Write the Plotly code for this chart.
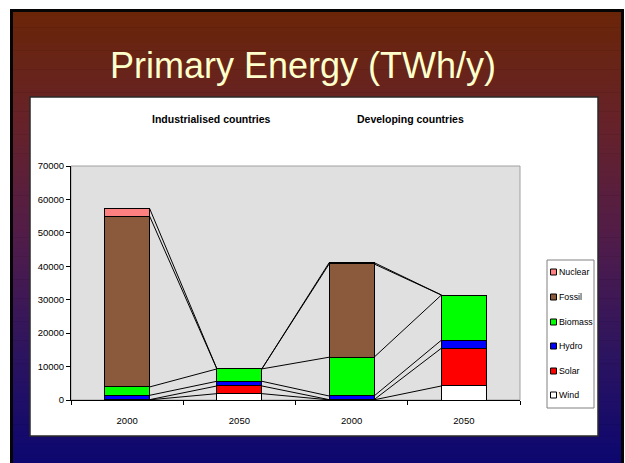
import plotly.graph_objects as go

# ---------------- data ----------------
categories = ["2000", "2050", "2000", "2050"]
groups = ["Industrialised countries", "Developing countries"]
series_names = ["Wind", "Solar", "Hydro", "Biomass", "Fossil", "Nuclear"]
wind = [50, 1900, 50, 4200]
solar = [50, 2300, 50, 11300]
hydro = [1300, 1400, 1100, 2400]
biomass = [2500, 3700, 11600, 13500]
fossil = [51100, 0, 27900, 0]
nuclear = [2300, 0, 400, 0]
y_ticks = [0, 10000, 20000, 30000, 40000, 50000, 60000, 70000]

series_values = [wind, solar, hydro, biomass, fossil, nuclear]
colors = ["#FFFFFF", "#FF0000", "#0000FF", "#00FF00", "#8B5A3C", "#FF8080"]

W, H = 625, 463
PL, PR, PT, PB = 71, 520, 166, 400   # plot area in pixels
FONT = "Liberation Sans, Arial, sans-serif"


def px(x):
    return (x - PL) / (PR - PL)


def py(y):
    return (PB - y) / (PB - PT)


shapes = []
# slide frame
shapes.append(dict(type="rect", xref="paper", yref="paper", layer="below",
                   x0=px(10), x1=px(624), y0=py(475), y1=py(9),
                   fillcolor="#050505", line=dict(width=0)))
stops = [(0.0, (106, 37, 8)), (0.25, (102, 34, 42)), (0.5, (80, 28, 74)),
         (0.75, (44, 20, 96)), (1.0, (10, 6, 112))]


def grad(t):
    for (a, ca), (b, cb) in zip(stops[:-1], stops[1:]):
        if a <= t <= b:
            f = (t - a) / (b - a)
            return "rgb(%d,%d,%d)" % tuple(round(ca[i] + (cb[i] - ca[i]) * f) for i in range(3))
    return "rgb(%d,%d,%d)" % stops[-1][1]


top, bot, n = 12, 470, 120
step = (bot - top) / n
for k in range(n):
    y0 = top + k * step
    shapes.append(dict(type="rect", xref="paper", yref="paper", layer="below",
                       x0=px(13), x1=px(621), y0=py(y0 + step + 0.6), y1=py(y0),
                       fillcolor=grad((k + 0.5) / n), line=dict(width=0)))
# white chart box
shapes.append(dict(type="rect", xref="paper", yref="paper", layer="below",
                   x0=px(30), x1=px(598), y0=py(436), y1=py(97),
                   fillcolor="white", line=dict(color="#2a2a2a", width=1.5)))
# grey plot area
shapes.append(dict(type="rect", xref="paper", yref="paper", layer="below",
                   x0=0, x1=1, y0=0, y1=1,
                   fillcolor="#E0E0E0", line=dict(color="#A0A0A0", width=1)))

fig = go.Figure()

for name, vals, col in zip(series_names, series_values, colors):
    fig.add_trace(go.Bar(
        x=list(range(len(categories))), y=vals, name=name, width=0.4,
        marker=dict(color=col, line=dict(color="black", width=1)),
        showlegend=False, hoverinfo="skip"))

# series lines between adjacent bars
cum = []
running = [0] * len(categories)
for vals in series_values:
    running = [r + v for r, v in zip(running, vals)]
    cum.append(list(running))
lx, ly = [], []
for level in cum:
    for i in range(len(categories) - 1):
        lx += [i + 0.2, i + 0.8, None]
        ly += [level[i], level[i + 1], None]
fig.add_trace(go.Scatter(x=lx, y=ly, mode="lines", line=dict(color="black", width=1),
                         showlegend=False, hoverinfo="skip"))

annotations = [
    dict(text="Primary Energy (TWh/y)", xref="paper", yref="paper", x=px(303), y=py(65),
         xanchor="center", yanchor="middle", showarrow=False,
         font=dict(family="Liberation Sans, Arial, sans-serif", size=36, color="#FFFFCC")),
    dict(text="<b>%s</b>" % groups[0], xref="paper", yref="paper", x=px(211), y=py(119),
         xanchor="center", yanchor="middle", showarrow=False,
         font=dict(family=FONT, size=10.5, color="black")),
    dict(text="<b>%s</b>" % groups[1], xref="paper", yref="paper", x=px(410), y=py(119),
         xanchor="center", yanchor="middle", showarrow=False,
         font=dict(family=FONT, size=10.5, color="black")),
]

# legend (drawn box, swatches and labels), top entry = last series
shapes.append(dict(type="rect", xref="paper", yref="paper", layer="above",
                   x0=px(547), x1=px(594), y0=py(408), y1=py(260),
                   fillcolor="white", line=dict(color="#808080", width=1)))
leg_y = [395, 371, 346, 322, 297, 272]
for name, col, yy in zip(series_names, colors, leg_y):
    shapes.append(dict(type="rect", xref="paper", yref="paper", layer="above",
                       x0=px(550.5), x1=px(556.5), y0=py(yy + 3), y1=py(yy - 3),
                       fillcolor=col, line=dict(color="black", width=1)))
    annotations.append(dict(text=name, xref="paper", yref="paper", x=px(557), y=py(yy),
                            xanchor="left", yanchor="middle", showarrow=False,
                            font=dict(family=FONT, size=8.8, color="black")))

fig.update_layout(
    width=W, height=H,
    margin=dict(l=PL, r=W - PR, t=PT, b=H - PB, pad=0, autoexpand=False),
    paper_bgcolor="white", plot_bgcolor="rgba(0,0,0,0)",
    barmode="stack", bargap=0,
    shapes=shapes, annotations=annotations,
    font=dict(family=FONT, size=10, color="black"),
    showlegend=False,
    xaxis=dict(range=[-0.5, 3.5], tickmode="array", tickvals=list(range(len(categories))),
               ticktext=categories, ticks="", showgrid=False, zeroline=False,
               showline=True, linecolor="black", linewidth=1,
               minor=dict(tickmode="array", tickvals=[-0.5, 0.5, 1.5, 2.5, 3.5],
                          ticks="outside", ticklen=4, tickcolor="black", showgrid=False),
               tickfont=dict(family=FONT, size=9.5), ticklabelstandoff=12, fixedrange=True),
    yaxis=dict(range=[0, 70000], tickmode="array", tickvals=y_ticks,
               ticktext=[str(v) for v in y_ticks], ticks="outside", ticklen=4,
               tickcolor="black", showgrid=False, zeroline=False,
               showline=True, linecolor="black", linewidth=1,
               tickfont=dict(family=FONT, size=9.5), fixedrange=True),
)

fig.write_html("out.html", config={"displayModeBar": False, "staticPlot": True},
               post_script="document.body.style.margin='0';document.body.style.overflow='hidden';")
